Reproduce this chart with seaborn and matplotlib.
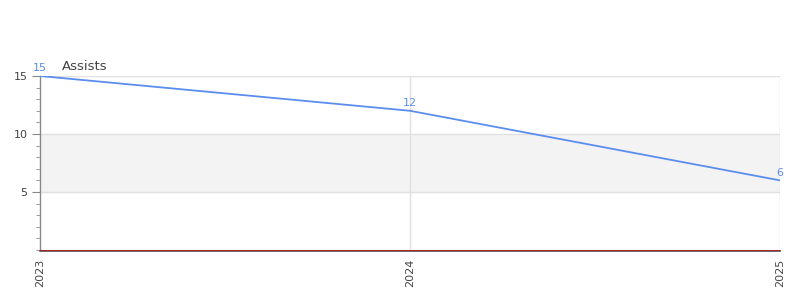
import matplotlib
matplotlib.use("Agg")
import matplotlib.pyplot as plt
from matplotlib.ticker import MultipleLocator
import seaborn as sns
import pandas as pd

years = [2023, 2024, 2025]
assists = [15, 12, 6]
title = "Assists"

sns.set_theme(style="white")
plt.rcParams['font.family'] = ['DejaVu Sans']

df = pd.DataFrame({"year": years, "assists": assists})

fig = plt.figure(figsize=(8, 3), dpi=100)
ax = fig.add_axes([0.05, 0.1667, 0.925, 0.58])

for s in ["top", "right"]:
    ax.spines[s].set_visible(False)
ax.spines["bottom"].set_position(("outward", 1))
ax.spines["left"].set_color("#888888")
ax.spines["left"].set_linewidth(1)
ax.spines["bottom"].set_color("#444444")
ax.spines["bottom"].set_linewidth(1.1)

line_color = "#5b8def"
ax.axhspan(5, 10, color="#f3f3f3", zorder=0, lw=0)
for y in [5, 10, 15]:
    ax.axhline(y, color="#e0e0e0", lw=1, zorder=1)
for x in years[1:]:
    ax.axvline(x, color="#e0e0e0", lw=1, zorder=1)

sns.lineplot(data=df, x="year", y="assists", ax=ax, color=line_color, lw=1.3, zorder=3)

for x, y in zip(years, assists):
    ax.annotate(str(y), (x, y), xytext=(0, 2), textcoords="offset points",
                ha="center", va="bottom", fontsize=8, color=line_color, zorder=4,
                annotation_clip=False)

ax.set_xlim(years[0], years[-1])
ax.set_ylim(0, 15)
ax.set_xticks(years)
ax.set_xticklabels([str(y) for y in years], rotation=90, fontsize=8, color="#444444")
ax.set_yticks([5, 10, 15])
ax.set_yticklabels(["5", "10", "15"], fontsize=8, color="#444444")
ax.yaxis.set_minor_locator(MultipleLocator(1))
ax.tick_params(axis="y", which="major", length=6, width=0.8, color="#888888", left=True, pad=3)
ax.tick_params(axis="y", which="minor", length=3, width=0.6, color="#888888", left=True)
ax.tick_params(axis="x", length=0, pad=5)
ax.set_xlabel("")
ax.set_ylabel("")

ax.axhline(0, color="#cc0000", lw=0.5, zorder=6, clip_on=False)

fig.text(62/800, 1 - 66/300, title, fontsize=9.5, color="#444444", ha="left", va="center")

fig.savefig("out.png", dpi=100)
